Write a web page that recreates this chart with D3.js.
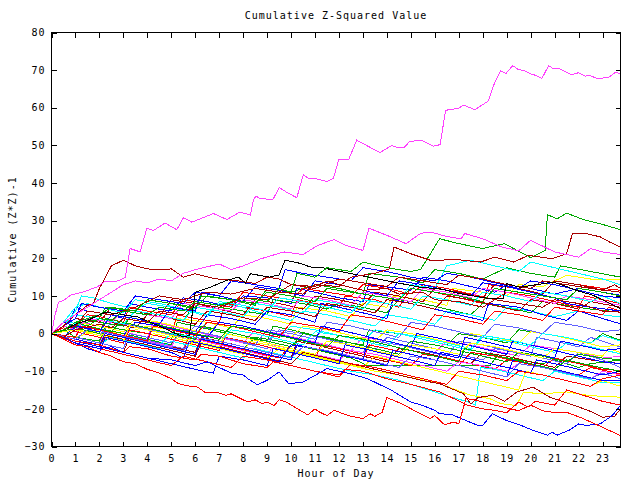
<!DOCTYPE html>
<html><head><meta charset="utf-8">
<script src="https://cdn.jsdelivr.net/npm/d3@7"></script>
<style>
body{margin:0;background:#fff}
svg{display:block}
text{font-family:"DejaVu Sans Mono",monospace;font-size:10px;letter-spacing:1px;fill:#000}
</style></head><body><svg id="c" width="640" height="480"></svg>
<script>
const chartTitle = "Cumulative Z-Squared Value";
const xLabel = "Hour of Day";
const yLabel = "Cumulative (Z*Z)-1";
const xTicks = [0,1,2,3,4,5,6,7,8,9,10,11,12,13,14,15,16,17,18,19,20,21,22,23];
const yTicks = [-30,-20,-10,0,10,20,30,40,50,60,70,80];
const xDomain = [0, 23.75];
const yDomain = [-30, 80];

// each series: [hour, cumulative value]
const s01 = [[0,0],[0.15,5],[0.3,8.4],[0.5,8.8],[0.8,10.2],[1.3,11],[1.9,12.4],[2.2,13.7],[2.8,14],[3.08,15],[3.28,22.6],[3.7,21.7],[3.98,28],[4.26,27.4],[4.74,29.4],[5.23,27.6],[5.51,30.8],[5.86,29.6],[6.76,31.9],[7.32,30.3],[7.87,32.3],[8.3,31.5],[8.43,35.6],[8.54,36.5],[8.7,35.9],[9.24,35.6],[9.51,38.8],[9.85,37.4],[10.24,36.1],[10.51,42.2],[10.72,41.3],[11.07,41.1],[11.49,40.4],[11.77,41.3],[11.99,46.2],[12.4,46.2],[12.74,51.4],[13.0,50.5],[13.71,48.1],[14.2,50.0],[14.45,49.4],[14.71,49.4],[14.96,51.1],[15.45,51.3],[15.94,49.8],[16.22,50.2],[16.45,59.3],[16.6,59.5],[16.98,59.8],[17.19,60.7],[17.68,59.5],[18.23,61.8],[18.51,66.9],[18.75,69.8],[18.97,69.1],[19.25,71.2],[19.48,70.2],[19.76,69.8],[19.97,69.1],[20.21,68.6],[20.47,67.8],[20.75,71.2],[20.94,70.4],[21.22,70.3],[21.71,68.8],[21.99,69.3],[22.27,68.4],[22.48,68.6],[22.75,67.8],[23.24,68.0],[23.55,69.5],[23.75,68.9]];
const s02 = [[0,0],[0.5,3],[1,5],[1.5,7],[2,9],[2.5,11],[3,13],[3.5,14],[4,13.5],[4.5,14.5],[5,14],[5.5,16],[6,17],[7,18.5],[7.5,17],[8,18],[8.75,19.9],[9.7,21.7],[10.5,21],[11.1,23.4],[11.8,25],[12.3,23.4],[13,22.1],[13.25,28],[14,26.1],[14.8,23.9],[15.4,26.6],[15.8,27],[16.5,25.8],[17.1,25.2],[17.25,26.6],[18,25.2],[18.8,23],[19.5,22],[20,24.8],[21,21.7],[22,20.3],[22.5,22.6],[23,21.7],[23.75,21]];
const s03 = [[0,0],[0.5,2],[1,5],[1.5,7.5],[1.75,8],[2,12],[2.25,15],[2.5,18],[3,19.5],[3.5,18],[4,17.2],[4.5,16.9],[5,17.2],[5.5,15],[6,15.9],[6.8,14.6],[7.8,14],[8.5,13.3],[9,15],[9.5,14.5],[10,13],[11,12.5],[11.5,14],[12,13],[13,11.5],[14,12],[14.5,10.5],[15.5,11],[16,9],[17,8.5],[18,7],[18.5,9],[19.5,8],[20.5,7],[21,9],[22,8],[23,6],[23.75,5.7]];
const s04 = [[0,0],[0.5,1],[1,2.5],[1.5,3.5],[2,5],[2.25,5.7],[3.6,4.4],[4.5,2],[5.5,-0.9],[5.75,-0.5],[6,11],[6.5,12],[7.3,14.1],[7.8,15],[8.1,13.4],[8.3,15.9],[9.1,15],[9.5,15.6],[9.75,19.5],[10.35,18.7],[10.8,17.7],[11.3,17.5],[13.3,14.9],[15.4,12.3],[16.2,11.9],[17.05,10.6],[18.3,9.3],[18.85,9.3],[19,13.3],[19.55,12.3],[20.95,13.7],[21.5,12.5],[21.9,11.5],[22.6,10.2],[23.75,6.6]];
const s05 = [[0,0],[0.5,1],[1,3],[1.5,2],[2,4],[2.5,3.5],[3,6],[4,5],[4.5,7],[5.5,6],[6,8.5],[7,7.5],[8,9.5],[9,8.5],[9.5,12],[10,11],[10.25,16],[11,15],[11.5,17.5],[12.5,16.5],[13,19],[14,17.5],[15,16.5],[15.4,17],[15.65,19.5],[16.2,25.2],[17,23.9],[18,22.6],[18.9,23.9],[20,20.2],[20.6,22.1],[20.7,31.6],[21.1,30.5],[21.5,32],[22.2,30.3],[22.9,29.2],[23.75,27.6]];
const s06 = [[0,0],[0.5,-1],[1,1],[2,2.5],[2.5,1.5],[3,4],[4,3],[4.5,6],[5.5,5],[6,8],[7,7],[8,9.5],[9,9],[9.5,11],[10.5,10.5],[11,13],[12,12.5],[12.5,15],[13.5,16],[14.1,17.2],[14.3,23],[15,21.2],[15.8,19.5],[17,19.6],[17.9,19],[18.5,20.3],[19.3,19],[19.9,20.8],[20.9,19.9],[21.5,21.2],[21.75,26.7],[22.3,26.6],[22.9,25.7],[23.3,24.3],[23.75,23]];
const s07 = [[0,0],[0.5,-1.5],[1,-3],[1.5,-3.5],[2,-5],[2.5,-6],[3,-7.5],[3.5,-8],[4,-9.5],[4.5,-10.5],[5,-12],[5.3,-13.3],[5.6,-13.8],[6.1,-14.2],[6.4,-15.6],[6.9,-15.6],[7.3,-16.4],[7.5,-16],[7.9,-17.3],[8.2,-18.2],[8.5,-17.6],[8.8,-18.6],[9,-18.2],[9.3,-19.1],[9.5,-17.6],[9.8,-18.2],[10.7,-21.6],[11,-20],[11.2,-20.9],[11.5,-21.8],[11.8,-20.4],[12.4,-21.8],[13,-22.6],[13.3,-21.3],[13.5,-22],[13.8,-20.9],[14,-17],[14.6,-18.6],[15.4,-21.3],[15.8,-22.6],[16,-21.8],[16.4,-24.2],[16.8,-23.5],[17,-24],[17.3,-17.3],[17.6,-17.5],[18.5,-19],[19.5,-20.5],[20,-19],[20.5,-20.5],[21,-21],[21.5,-20.9],[22.2,-22.6],[23,-24.9],[23.75,-27.1]];
const s08 = [[0,0],[1,-2],[2,-3],[3,-5],[3.25,-3.5],[4,-4],[5,-6],[6,-7],[6.25,-5.5],[7,-6],[8,-8],[9,-9],[9.25,-7.5],[10,-8.5],[11,-10],[12,-11],[12.25,-9.5],[13,-10],[14,-12],[15,-13.5],[16.2,-15.5],[16.8,-17.3],[17.4,-19.1],[18,-20],[18.5,-20.4],[19,-21],[19.5,-18.2],[19.9,-19.5],[20.2,-18],[21,-19],[21.5,-15],[22,-16],[23,-18],[23.75,-19]];
const s09 = [[0,0],[0.5,-1],[1,-2.5],[2,-4],[2.5,-3.5],[3,-5],[4,-6.5],[5,-7],[6,-8.5],[6.5,-7.5],[7,-9],[7.5,-10.5],[8,-11],[8.2,-12],[8.6,-13.6],[9,-12.4],[9.5,-10.2],[9.9,-13.3],[10.5,-12.9],[11.5,-9.3],[12.5,-10.7],[13.2,-12],[14.2,-15.1],[15,-18.2],[15.5,-19.1],[16,-20.4],[16.2,-21.3],[16.7,-21.5],[17.3,-23.1],[17.8,-24.4],[18,-24.4],[18.4,-21.3],[19,-23.1],[19.6,-24.4],[20.1,-25.7],[20.7,-27],[20.9,-26.2],[21.1,-27],[21.6,-25.7],[22,-24],[22.3,-24.4],[22.9,-24],[23.4,-21.8],[23.75,-19.1]];
const s10 = [[0,0],[1,2],[2,4],[2.25,7],[3.5,6],[4,9],[5,8],[6,6.5],[6.25,10],[7.5,9],[8.5,7.5],[9,12],[10,11],[11,13],[12,12],[13,10.5],[13.25,16],[14.5,15],[15.5,13.5],[16,17],[17,16],[18,14.5],[19,17.5],[20,16],[21,15],[21.25,18],[22.5,16.5],[23.75,15]];
const s11 = [[0,0],[1,-1],[2,1],[3,0],[4,2],[5,1],[5.25,4],[6.5,3],[7.5,1.5],[8,5],[9,4],[10,2.5],[10.25,7],[11.5,6],[12.5,4.5],[13,8],[14,7],[14.25,10],[15.5,9],[16.5,7.5],[16.75,12],[18,11],[19,10],[19.5,13],[20.5,12.5],[21.5,15.5],[22.5,14.5],[23.75,14.4]];
const s12 = [[0,0],[0.5,-1],[1,1],[2,0],[2.25,4],[3,3],[4,1.5],[5,0],[5.25,5],[6,4],[7,3],[7.25,8],[8,7],[9,6],[10,4.5],[10.25,9],[11,8],[12,7],[12.25,10],[13.5,9],[14.5,7],[15,12],[16,11],[17,9.5],[18,8],[18.25,13],[19.5,12],[20.5,10.5],[21,14],[22,13],[23,12],[23.75,11.5]];
const s13 = [[0,0],[0.75,3],[1,7],[1.5,6],[2.5,5],[3,4],[3.25,8],[4,7],[5,6],[5.5,9.5],[6.5,8.5],[7.5,7],[8,10],[9,9.5],[10,8],[10.25,12],[11,11],[12,9.5],[13,8.5],[13.25,13],[14.5,12],[15,11.5],[15.5,15],[16.5,14],[17.5,12.5],[18.5,11],[19,13],[20,12],[21,10.5],[22,12],[23,11],[23.75,10.2]];
const s14 = [[0,0],[1,1],[1.25,4],[2,3],[3,2],[3.5,6],[4.5,5],[5.5,3.5],[6,8],[7,7],[8,6],[9,5],[9.25,9],[10.5,8],[11.5,6.5],[12,8],[13,7],[14,5.5],[14.5,9],[15.5,8],[16.5,6.5],[17.5,5],[18,8],[19,7],[20,5.5],[20.5,8.5],[21.5,7.5],[22.5,6.5],[23.75,5.7]];
const s15 = [[0,0],[0.5,2],[1,6],[1.25,10],[1.75,9.5],[2.5,8],[3.5,6.5],[4,8],[5,7],[6,5.5],[6.5,4.5],[7,8],[8,7],[9,5],[10,3.5],[10.5,6],[11.5,5],[12.5,3.5],[13.5,2],[14,5],[15,4],[16,2.5],[16.5,6],[17.5,5],[18.5,3.5],[19,7],[20,6],[21,4.5],[22,6],[23,5],[23.75,4.4]];
const s16 = [[0,0],[1,-2],[2,-3],[2.25,1],[3,0],[4,-1.5],[4.25,3],[5,2],[6,0.5],[6.5,5],[7.5,4],[8.5,2.5],[9,6],[10,5],[11,3],[11.25,8],[12,7],[13,5.5],[14,4],[14.25,9],[15,8],[16,6.5],[17,5],[18,3.5],[18.25,8],[19.5,7],[20.5,5],[21.5,3.5],[22,6],[23,4],[23.75,2.6]];
const s17 = [[0,0],[1,2],[1.5,5],[2,4.5],[3,3],[3.25,7],[4,6],[5,5],[5.5,9],[6.5,8],[7.5,7],[8,11],[9,10],[10,9],[10.5,12],[11.5,11],[12.5,10],[13,13],[14,12],[15,10.5],[15.5,13],[16.5,12],[17.5,10.5],[18.5,9],[19,11],[20,10],[21,8.5],[22,7],[22.25,10],[23,9],[23.75,8]];
const s18 = [[0,0],[0.5,1],[1,-1],[2,-2],[2.25,2],[3,1],[4,0],[5,-1.5],[5.25,3],[6,2],[7,0.5],[8,-1],[9,-2],[9.25,2],[10,1],[11,-0.5],[12,-2],[13,-3],[13.25,1],[14.5,0],[15.5,-1.5],[16.5,-3],[17,0],[18,-1],[19,-2.5],[19.5,1],[20.5,0],[21.5,-1],[22.5,-2.5],[23,0],[23.75,-1.8]];
const s19 = [[0,0],[1,-1],[2,-2.5],[2.25,1],[3,0],[4,-1.5],[5,-3],[5.25,0],[6,-1],[7,-2.5],[8,-4],[8.5,-1],[9.5,-2],[10.5,-3.5],[11.5,-5],[12.5,-6.5],[13.2,-8.5],[18.3,-8.5],[18.6,-6],[19.5,-7],[20.5,-8],[21,-7],[22,-9],[22.5,-8],[23.75,-7]];
const s20 = [[0,0],[1,-1.5],[2,-3],[2.5,0],[3.5,-1],[4.5,-2.5],[5.5,-4],[5.75,0],[7,-1],[8,-2.5],[9,-4],[9.25,0],[10,-1],[11,-2.5],[12,-4],[13,-5],[13.5,-2],[14.5,-3],[15.5,-4.5],[16.5,-6],[17,-2],[18,-3],[19,-4.5],[20,-6],[20.25,-1],[21,-2],[22,-3.5],[22.5,-1],[23.75,-3.6]];
const s21 = [[0,0],[0.75,3],[1.5,2],[2.5,0.5],[3,4],[4,3],[5,1.5],[6,0],[6.5,3],[7.5,2],[8.5,0.5],[9.5,-1],[10,2],[11,1],[12,-0.5],[13,-2],[13.5,1],[14.5,0],[15.5,-1.5],[16.5,-3],[17.5,-4.5],[18,-1],[19,-2],[20,-3.5],[21,-5],[21.5,-2.5],[22.5,-3.5],[23.75,-5.4]];
const s22 = [[0,0],[1,-1],[1.25,3],[2,2],[3,0.5],[4,-1],[4.25,3],[5,2],[6,0.5],[7,-1],[8,-2.5],[8.5,1],[9.5,0],[10.5,-1.5],[11.5,-3],[12.5,-4.5],[13,-1],[14,-2],[15,-3.5],[16,-5],[16.5,-2],[17.5,-3],[18.5,-4.5],[19.5,-6],[20,-3],[21,-4],[22,-5],[23,-6.5],[23.75,-6]];
const s23 = [[0,0],[1,-2],[2,-3.5],[3,-5],[3.25,-1],[4,-2],[5,-3.5],[6,-5],[6.25,-1],[7,-2],[8,-3.5],[9,-5],[10,-6.5],[10.25,-2],[11,-3],[12,-4.5],[13,-6],[14,-7.5],[14.5,-4],[15.5,-5],[16.5,-6.5],[17.5,-8],[18,-5],[19,-6],[20,-7.5],[21,-9],[21.5,-6],[22.5,-7],[23.75,-8]];
const s24 = [[0,0],[0.5,2],[1,1],[2,-0.5],[2.5,3],[3.5,2],[4.5,0.5],[5.5,-1],[6,2],[7,1],[8,-0.5],[9,-2],[9.5,1],[10.5,0],[11.5,-1.5],[12.5,-3],[13.5,-4.5],[14,-1],[15,-2.5],[16,-4],[17,-5.5],[18,-7],[18.5,-4],[19.5,-5],[20.5,-6.5],[21.5,-8],[22,-5],[23,-7],[23.75,-9]];
const s25 = [[0,0],[1,-1.5],[1.5,1],[2.5,0],[3.5,-1.5],[4.5,-3],[5.5,-4.5],[5.75,-1],[6.5,-2],[7.5,-3.5],[8.5,-5],[9.5,-6.5],[10,-3],[11,-4],[12,-5.5],[13,-7],[13.25,-3],[14,-4],[15,-5.5],[16,-7],[17,-8.5],[17.5,-5],[18.5,-6],[19.5,-7.5],[20.5,-9],[21,-6.5],[22,-8],[23,-9.5],[23.75,-9.8]];
const s26 = [[0,0],[0.5,1.5],[1,0.5],[2,-1],[3,-2.5],[3.25,1],[4,0],[5,-1.5],[6,-3],[7,-4.5],[7.25,-1],[8,-2],[9,-3.5],[10,-5],[11,-6.5],[11.25,-3],[12,-4],[13,-5.5],[14,-7],[15,-8.5],[15.5,-5.5],[16.5,-6.5],[17.5,-8],[18.5,-9.5],[19,-7],[20,-8],[21,-9.5],[22,-11],[22.5,-9],[23.75,-10.7]];
const s27 = [[0,0],[1,-1],[2,-2.5],[2.25,0.5],[3,-0.5],[4,-2],[5,-3.5],[5.25,-0.5],[6,-1.5],[7,-3],[8,-4.5],[9,-6],[9.25,-3],[10,-4],[11,-5.5],[12,-7],[12.5,-4.5],[13.5,-5.5],[14.5,-7],[15.5,-8.5],[16.5,-10],[17,-7.5],[18,-8.5],[19,-10],[19.5,-8],[20.5,-9],[21.5,-10.5],[22.5,-12],[23,-10],[23.75,-11]];
const s28 = [[0,0],[1,-1.5],[2,-3],[2.5,-1],[3.5,-2.5],[4.5,-4],[5,-2],[6,-3.5],[7,-5],[8,-6.5],[8.5,-4],[9.5,-5.5],[10.5,-7],[11.5,-8.5],[12.5,-10],[13.5,-11],[14.5,-12.4],[15.5,-14.5],[16.5,-16.5],[17.3,-18],[17.7,-19],[17.9,-9],[18.5,-9.5],[19.5,-11],[20.5,-12.5],[21,-10],[22,-11.5],[23,-13],[23.75,-13]];
const s29 = [[0,0],[0.5,-1],[1,1],[2,0],[3,-1.5],[4,-3],[4.25,0],[5,-1],[6,-2.5],[7,-4],[8,-5.5],[8.25,-2],[9,-3],[10,-4.5],[11,-6],[12,-7.5],[13,-9],[13.5,-6],[14.5,-7.5],[15.5,-9],[16.5,-10.5],[17.5,-12],[18.5,-13.5],[19.5,-15],[19.8,-10],[20.5,-11],[21.5,-12.5],[22.5,-14],[23,-12.5],[23.75,-14]];
const s30 = [[0,0],[1,-1],[2,-2.5],[2.5,0],[3.5,-1.5],[4.5,-3],[5.5,-4.5],[6,-2],[7,-3.5],[8,-5],[9,-6.5],[9.5,-4],[10.5,-5.5],[11.5,-7],[12.5,-8.5],[13.5,-10],[14.5,-11],[16.2,-13.3],[17.5,-16.4],[18.3,-17.3],[18.75,-18.6],[19.4,-19.1],[19.7,-15.6],[20.5,-16],[21.5,-15.5],[22.5,-16.5],[23.75,-16.9]];
const s31 = [[0,0],[1,-2],[2,-3.5],[2.25,-0.5],[3,-1.5],[4,-3],[5,-4.5],[6,-6],[6.25,-2.5],[7,-3.5],[8,-5],[9,-6.5],[10,-8],[10.5,-5],[11.5,-6.5],[12.5,-8],[13.5,-9.5],[14.5,-11],[15.5,-12.5],[16.2,-13.3],[17.2,-16],[17.5,-18.7],[17.8,-17],[18.4,-16.4],[18.9,-18],[19.4,-15.6],[20.1,-14.2],[20.8,-16.9],[21.6,-18.6],[22.4,-20.4],[23,-22.2],[23.5,-22],[23.75,-20]];
const s32 = [[0,0],[0.5,1],[1,3],[2,2],[3,0.5],[3.5,4],[4.5,3],[5.5,1.5],[6.5,0],[7,3],[8,2],[9,0.5],[10,-1],[10.5,2],[11.5,1],[12.5,-0.5],[13.5,-2],[14,1],[15,0],[16,-1.5],[17,-3],[17.5,0],[18.5,-1],[19.5,-2.5],[20,0.5],[21,-0.5],[22,-2],[23,-3.5],[23.75,-3]];
const s33 = [[0,0],[1,1],[1.5,4],[2.5,3],[3.5,1.5],[4,5],[5,4],[6,2.5],[6.5,6],[7.5,5],[8.5,3.5],[9,7],[10,6],[11,4.5],[11.5,8],[12.5,7],[13.5,5.5],[14,9],[15,8],[16,6.5],[16.5,10],[17.5,9],[18.5,7.5],[19.5,6],[20,9],[21,8],[22,6.5],[22.5,8.5],[23.75,7]];
const s34 = [[0,0],[0.5,2],[1,4],[2,3],[2.5,7],[3.5,6],[4.5,4.5],[5,9],[6,8],[7,6.5],[8,5],[8.5,9],[9.5,8],[10.5,6.5],[11,10],[12,9],[13,7.5],[13.5,11],[14.5,10],[15.5,8.5],[16,12],[17,11],[18,9.5],[18.5,13],[19.5,12],[20.5,10.5],[21,14],[22,13],[23,11.5],[23.5,13],[23.75,12]];
const s35 = [[0,0],[1,-1],[2,-2.5],[3,-4],[3.25,0],[4,-1],[5,-2.5],[5.5,1],[6.5,0],[7.5,-1.5],[8.5,-3],[9,1],[10,0],[11,-1.5],[11.5,3],[12.5,2],[13.5,0.5],[14.5,-1],[15,3],[16,2],[17,0.5],[18,-1],[18.5,2.5],[19.5,1.5],[20.5,0],[21,3],[22,2],[23,0.5],[23.75,1]];
const s36 = [[0,0],[1,1.5],[2,0],[2.25,4],[3,3],[4,1.5],[5,0],[6,-1.5],[6.25,2],[7,1],[8,-0.5],[9,-2],[10,-3.5],[10.5,0],[11.5,-1],[12.5,-2.5],[13.5,-4],[14.5,-5.5],[15,-2],[16,-3],[17,-4.5],[18,-6],[19,-7.5],[19.5,-5],[20.5,-6],[21.5,-7.5],[22,-5.5],[23,-6.5],[23.75,-7]];
const s37 = [[0,0],[0.5,-1],[1,2],[2,1],[3,-0.5],[3.5,3],[4.5,2],[5.5,0.5],[6.5,-1],[7,3],[8,2],[9,0.5],[10,-1],[11,-2.5],[11.25,2],[12,1],[13,-0.5],[14,-2],[15,-3.5],[15.25,0],[16,-1],[17,-2.5],[18,-4],[19,-5.5],[19.25,-2],[20,-3],[21,-4.5],[22,-6],[23,-7.5],[23.75,-8]];
const s38 = [[0,0],[1,-1],[1.25,2],[2,1],[3,-0.5],[4,-2],[4.25,2],[5,1],[6,-0.5],[6.5,3],[7.5,2],[8.5,0.5],[9.5,-1],[10,3],[11,2],[12,0.5],[12.5,5],[13.5,4],[14.5,2.5],[15.5,1],[16,5],[17,4],[18,2.5],[18.5,6],[19.5,5],[20.5,3.5],[21,7],[22,6],[23,5],[23.25,7],[23.75,6]];
const s39 = [[0,0],[1,-1.5],[1.5,1],[2.5,0],[3.5,-1.5],[4.5,-3],[5,0],[6,-1],[7,-2.5],[7.5,1],[8.5,0],[9.5,-1.5],[10.5,-3],[11,0.5],[12,-0.5],[13,-2],[14,-3.5],[14.5,0],[15.5,-1],[16.5,-2.5],[17.5,-4],[18,-0.5],[19,-1.5],[20,-3],[20.5,0],[21.5,-1],[22.5,-2.5],[23,-0.5],[23.75,-2]];
const s40 = [[0,0],[1,1],[2,-0.5],[3,-2],[3.25,2],[4,1],[5,-0.5],[6,-2],[7,-3.5],[7.25,0],[8,-1],[9,-2.5],[10,-4],[11,-5.5],[11.5,-2],[12.5,-3],[13.5,-4.5],[14.5,-6],[15,-3],[16,-4],[17,-5.5],[17.5,-2.5],[18.5,-3.5],[19.5,-5],[20.5,-6.5],[21,-4],[22,-5],[23,-6],[23.25,-4],[23.75,-5]];
const s41 = [[0,0],[0.5,2],[1,1],[1.5,4],[2.5,3],[3,6],[4,5],[5,4],[5.5,8],[6.5,7],[7.5,6],[8,9],[9,8],[10,6.5],[10.5,10],[11.5,9],[12.5,7.5],[13,11],[14,10],[15,8.5],[15.5,12],[16.5,11],[17.5,9.5],[18,12],[19,11],[20,9.5],[21,8],[21.5,10],[22.5,9],[23.75,7.5]];
const s42 = [[0,0],[1,-1.5],[2,-3],[2.25,0],[3,-1],[4,-2.5],[5,-4],[6,-5.5],[6.25,-1.5],[7,-2.5],[8,-4],[9,-5.5],[10,-7],[10.25,-3],[11,-4],[12,-5.5],[13,-7],[14,-8.5],[14.25,-4.5],[15,-5.5],[16,-7],[17,-8.5],[18,-10],[19,-11.5],[19.25,-7],[20,-8],[21,-9.5],[22,-11],[23,-12.5],[23.75,-12.4]];
const s43 = [[0,0],[0.5,1],[1,3],[1.5,2],[2.5,0.5],[3,4],[4,3],[5,1.5],[6,0],[7,-1.5],[7.5,2],[8.5,1],[9.5,-0.5],[10.5,-2],[11.5,-3.5],[12,-0.5],[13,-1.5],[14,-3],[15,-4.5],[16,-6],[17,-7.5],[17.25,-4],[18,-5],[19,-6.5],[20,-8],[21,-9.5],[21.5,-7],[22.5,-8.5],[23.75,-10]];
const s44 = [[0,0],[0.5,3],[1,7],[1.5,8],[2,7],[3,5.5],[3.5,9],[4.5,8],[5.5,6.5],[6.5,5],[7,8.5],[8,7.5],[9,6],[9.5,9.5],[10.5,8.5],[11.5,7],[12.5,5.5],[13,9],[14,8],[15,6.5],[15.5,10],[16.5,9],[17.5,7.5],[18,11],[19,10],[20,8.5],[20.5,11],[21.5,10],[22.5,8.5],[23,10],[23.75,8]];
const s45 = [[0,0],[0.5,2],[1,5],[2,4],[3,2.5],[3.5,6],[4.5,5],[5.5,3.5],[6,7],[7,6],[8,4.5],[8.5,8],[9.5,7],[10.5,5.5],[11,9],[12,8],[13,6.5],[13.5,10],[14.5,9],[15,13],[16,12],[16.5,18],[17.5,19.5],[18.5,18],[19.5,16.5],[20,19],[21,17.5],[22,16],[23,14.5],[23.75,13]];
const s46 = [[0,0],[0.5,-1],[1,-2.5],[1.5,-4],[2,-5],[2.25,-1],[3,-2],[4,-3.5],[5,-5],[5.5,-6.5],[5.75,-2],[6.5,-3],[7.5,-4.5],[8.5,-6],[9.5,-7.5],[10,-3],[11,-4],[12,-5.5],[13,-7],[13.25,-1],[14,-2],[15,-3.5],[16,-5],[17,-6.5],[17.25,-1],[18,-2],[19,-3.5],[20,-5],[21,-6.5],[21.25,-2],[22,-3],[23,-4.5],[23.75,-4]];
const s47 = [[0,0],[1,-1.5],[1.5,1],[2.5,0],[3.5,-1.5],[4.5,-3],[5.5,-4.5],[6,-1],[7,-2],[8,-3.5],[9,-5],[10,-6.5],[10.5,-3.5],[11.5,-4.5],[12.5,-6],[13.5,-7.5],[14.5,-9],[15,-6],[16,-7],[17,-8.5],[18,-10],[19,-11.5],[19.5,-8],[20.5,-9],[21.5,-10.5],[22.5,-12],[23,-10.5],[23.75,-12]];
const s48 = [[0,0],[0.5,3],[1,2],[2,0.5],[2.5,5],[3.5,4],[4.5,2.5],[5,7],[6,6],[6.25,11],[7,10],[8,8.5],[8.5,12.5],[9.5,11.5],[10.5,10],[11,14],[12,13],[13,11.5],[14,10],[14.5,14],[15.5,13],[16.5,11.5],[17.5,10],[18,13.5],[19,12.5],[20,11],[21,9.5],[21.5,8],[22.5,7],[23.75,6]];
const s49 = [[0,0],[1,-2],[2,-3.5],[3,-5],[4,-6.5],[5,-8],[6,-9.5],[6.75,-10.5],[7,-6],[8,-7],[9,-8.5],[9.25,-4],[10,-5],[11,-6.5],[12,-8],[12.25,-3],[13,-4],[14,-5.5],[15,-7],[16,-8.5],[16.25,-5],[17,-6],[18,-7.5],[19,-9],[20,-10.5],[20.25,-7],[21,-8],[22,-9.5],[23,-11],[23.75,-10]];
const s50 = [[0,0],[1,-2.5],[2,-4],[3,-5.5],[4,-7],[5,-8.5],[5.5,-6],[6.5,-7.5],[7.5,-9],[8,-6],[9,-7],[10,-8.5],[11,-10],[12,-11.5],[12.5,-8],[13.5,-9],[14.5,-10.5],[15.5,-12],[16.5,-13.5],[17,-10],[18,-11],[19,-12.5],[19.5,-10],[20.5,-11],[21.5,-12.5],[22.5,-14],[23,-12],[23.75,-11]];
const s51 = [[0,0],[0.5,2],[1,4],[1.25,8],[2,7],[3,6],[3.5,10],[4.5,9],[5.5,8],[6,11],[7,10],[7.5,14],[8.5,13],[9.5,12],[9.75,17],[10.5,16],[11.5,15],[12.5,14],[13,17.5],[14,16.5],[15,15],[16,14],[16.5,16],[17.5,15],[18.5,13.5],[19.5,12],[20,14],[21,13],[22,11.5],[23,10],[23.75,9.5]];
const s52 = [[0,0],[1,2],[1.5,6],[2.5,5],[3.5,7],[4.5,10],[5.5,9],[6.5,11],[7.5,10.5],[8.5,12],[9.5,11],[10,13],[11,12],[12,14.5],[13,13.5],[14,12.5],[14.5,15],[15.5,14],[16.5,13],[17,15.5],[18,14.5],[19,13],[20,12],[20.5,14],[21.5,13],[22.5,12],[23.75,11]];
const s53 = [[0,0],[0.5,1],[1,3],[2,5],[2.5,7],[3.5,6],[4,9],[5,8],[6,7],[6.5,10],[7.5,9],[8.5,8],[9,11],[10,10],[11,8.5],[11.5,12],[12.5,11],[13.5,10],[14.5,9],[15,12],[16,11],[17,10],[18,8.5],[18.5,12],[19.5,11],[20.5,10],[21.5,9],[22,12],[23,11],[23.75,10]];

const seriesList = [s10,s11,s12,s13,s14,s15,s16,s17,s18,s19,s20,s21,s22,s23,s24,s25,s26,s27,s28,s29,s30,s31,s32,s33,s34,s35,s36,s37,s38,s39,s40,s41,s42,s43,s44,s45,s46,s47,s48,s49,s50,s51,s52,s53,s08,s09,s07,s03,s04,s05,s06,s02,s01];
const seriesColors = ["green","yellow","red","blue","green","cyan","blue","red","green","green","slate","cyan","magenta","darkred","slate","red","red","magenta","cyan","yellow","yellow","darkred","yellow","darkred","darkred","slate","green","blue","red","cyan","yellow","magenta","blue","green","cyan","cyan","blue","slate","blue","blue","red","blue","darkred","green","red","blue","red","darkred","black","green","darkred","magenta","magenta"];
const palette = {red:"#ff0000",green:"#00a800",blue:"#0000ff",magenta:"#ff40ff",cyan:"#00ffff",darkred:"#a80000",yellow:"#ffff00",black:"#000000",slate:"#6060ff"};

const svg = d3.select("#c");
const L = 51.5, R = 620.5, T = 32.5, B = 446.5;
const x = d3.scaleLinear().domain(xDomain).range([L, R]);
const y = d3.scaleLinear().domain(yDomain).range([B, T]);

svg.append("rect").attr("width",640).attr("height",480).attr("fill","#fff");

svg.append("defs").append("clipPath").attr("id","pc")
  .append("rect").attr("x",L).attr("y",T).attr("width",R-L).attr("height",B-T);

const line = d3.line().x(d => x(d[0])).y(d => y(d[1]));
svg.append("g").attr("clip-path","url(#pc)")
  .selectAll("path").data(seriesList).join("path")
  .attr("d", line)
  .attr("fill","none")
  .attr("stroke",(d,i) => palette[seriesColors[i]])
  .attr("stroke-width",1)
  .attr("shape-rendering","crispEdges");

function styleAxis(g){
  g.select(".domain").remove();
  g.selectAll("line").attr("stroke","#000").attr("shape-rendering","crispEdges");
  g.selectAll("text").attr("font-family",null).attr("font-size",null).attr("fill","#000");
}
svg.append("g").attr("transform",`translate(0,${B})`)
  .call(d3.axisBottom(x).tickValues(xTicks).tickSize(-5).tickPadding(8).tickFormat(d3.format("d")))
  .call(styleAxis);
svg.append("g").attr("transform",`translate(0,${T})`)
  .call(d3.axisTop(x).tickValues(xTicks).tickSize(-5).tickFormat(""))
  .call(styleAxis);
svg.append("g").attr("transform",`translate(${L},0)`)
  .call(d3.axisLeft(y).tickValues(yTicks).tickSize(-5).tickPadding(6).tickFormat(d3.format("d")))
  .call(styleAxis);
svg.append("g").attr("transform",`translate(${R},0)`)
  .call(d3.axisRight(y).tickValues(yTicks).tickSize(-5).tickFormat(""))
  .call(styleAxis);

svg.append("rect").attr("x",L).attr("y",T).attr("width",R-L).attr("height",B-T)
  .attr("fill","none").attr("stroke","#000").attr("shape-rendering","crispEdges");

svg.append("text").attr("x",(L+R)/2).attr("y",19).attr("text-anchor","middle").text(chartTitle);
svg.append("text").attr("x",(L+R)/2).attr("y",477).attr("text-anchor","middle").text(xLabel);
svg.append("text").attr("transform",`translate(16,${(T+B)/2}) rotate(-90)`).attr("text-anchor","middle").text(yLabel);
</script></body></html>
